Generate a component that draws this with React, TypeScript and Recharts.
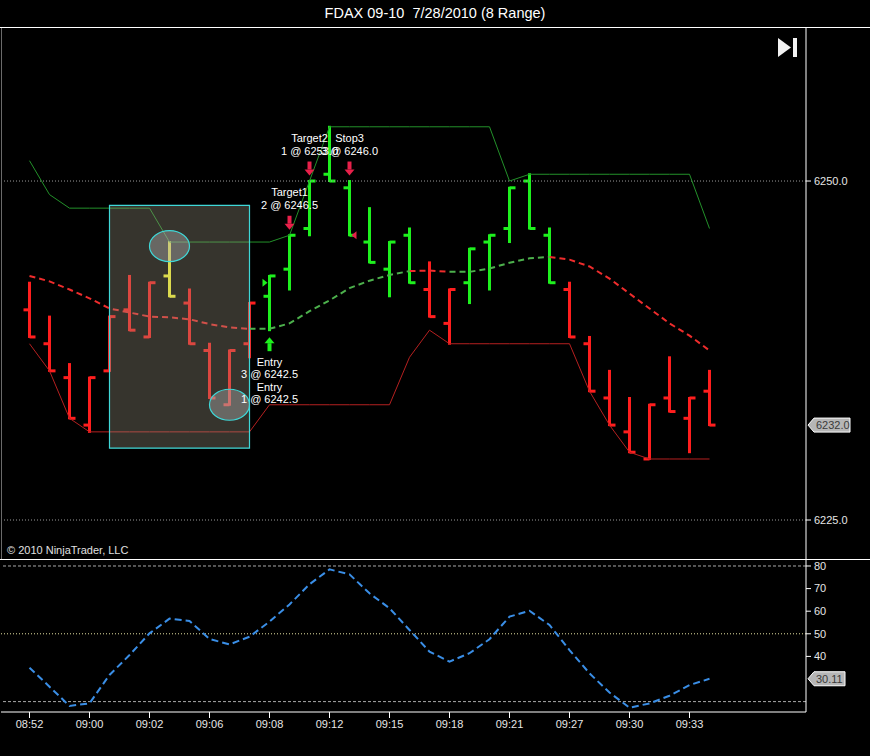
import React from "react";
import {
  ComposedChart,
  LineChart,
  Line,
  Bar,
  XAxis,
  YAxis,
  ReferenceLine,
  ReferenceArea,
  ReferenceDot,
} from "recharts";

// x-axis labels, one every third bar
const TIME_LABELS = [
  "08:52", "09:00", "09:02", "09:06", "09:08", "09:12",
  "09:15", "09:18", "09:21", "09:27", "09:30", "09:33",
];

// bar paint colour: r = red, g = green, y = yellow
const BAR_COLORS = [
  "r", "r", "r", "r", "r", "r", "r", "y", "r", "r", "r", "r",
  "g", "g", "g", "g", "g", "g", "g", "g", "r", "r",
  "g", "g", "g", "g", "g", "r", "r", "r", "r", "r", "r", "r", "r",
];

const OPEN = [
  6240.5, 6238.0, 6235.5, 6232.0, 6236.0, 6240.5, 6238.5, 6243.0, 6241.0, 6237.5, 6233.5, 6238.0,
  6241.5, 6243.5, 6246.5, 6250.5, 6249.5, 6245.5, 6243.5, 6246.0, 6242.0, 6239.5,
  6242.5, 6245.5, 6246.5, 6250.0, 6246.0, 6242.0, 6238.0, 6234.0, 6231.5, 6229.5, 6234.0, 6232.5, 6234.5,
];
const HIGH = [
  6242.5, 6240.0, 6236.5, 6235.5, 6240.0, 6243.0, 6242.5, 6245.5, 6242.0, 6238.0, 6237.5, 6241.0,
  6243.0, 6246.0, 6250.0, 6254.0, 6250.0, 6248.0, 6245.5, 6246.5, 6244.0, 6242.0,
  6245.0, 6246.0, 6249.5, 6250.5, 6246.5, 6242.5, 6238.5, 6236.0, 6234.0, 6233.5, 6237.0, 6234.0, 6236.0,
];
const LOW = [
  6238.5, 6236.0, 6232.5, 6231.5, 6236.0, 6239.0, 6238.5, 6241.5, 6238.0, 6234.0, 6233.5, 6237.0,
  6239.0, 6242.0, 6246.0, 6250.0, 6246.0, 6244.0, 6241.5, 6242.5, 6240.0, 6238.0,
  6241.0, 6242.0, 6245.5, 6246.5, 6242.5, 6238.5, 6234.5, 6232.0, 6230.0, 6229.5, 6233.0, 6230.0, 6232.0,
];
const CLOSE = [
  6238.5, 6236.0, 6232.5, 6235.5, 6240.0, 6239.0, 6242.5, 6241.5, 6238.0, 6234.0, 6237.5, 6241.0,
  6243.0, 6246.0, 6250.0, 6250.0, 6246.0, 6244.0, 6245.5, 6242.5, 6240.0, 6242.0,
  6245.0, 6246.0, 6249.5, 6246.5, 6242.5, 6238.5, 6234.5, 6232.0, 6230.0, 6233.5, 6233.0, 6234.0, 6232.0,
];

// channel (upper / lower)
const UPPER = [
  6251.5, 6249.0, 6248.0, 6248.0, 6248.0, 6248.0, 6248.0, 6245.5, 6245.5, 6245.5, 6245.5, 6245.5,
  6245.5, 6246.0, 6250.0, 6254.0, 6254.0, 6254.0, 6254.0, 6254.0, 6254.0, 6254.0,
  6254.0, 6254.0, 6250.0, 6250.5, 6250.5, 6250.5, 6250.5, 6250.5, 6250.5, 6250.5, 6250.5, 6250.5, 6246.5,
];
const LOWER = [
  6238.0, 6236.0, 6232.5, 6231.5, 6231.5, 6231.5, 6231.5, 6231.5, 6231.5, 6231.5, 6231.5, 6231.5,
  6233.5, 6233.5, 6233.5, 6233.5, 6233.5, 6233.5, 6233.5, 6237.0, 6239.0, 6238.0,
  6238.0, 6238.0, 6238.0, 6238.0, 6238.0, 6238.0, 6234.5, 6232.0, 6230.0, 6229.5, 6229.5, 6229.5, 6229.5,
];

// moving average
const MA = [
  6243.0, 6242.6, 6242.0, 6241.35, 6240.6, 6240.3, 6240.0, 6239.95, 6239.8, 6239.45, 6239.2, 6239.1,
  6239.1, 6239.5, 6240.4, 6241.2, 6242.1, 6242.65, 6243.07, 6243.36, 6243.4, 6243.3,
  6243.3, 6243.55, 6243.97, 6244.3, 6244.4, 6244.2, 6243.7, 6242.8, 6241.7, 6240.6, 6239.5, 6238.6, 6237.5,
];

// lower panel oscillator
const OSC = [
  35.0, 26.6, 18.1, 19.2, 31.8, 40.6, 50.2, 56.7, 55.7, 47.7, 45.3, 48.7,
  55.4, 63.0, 71.9, 78.5, 76.3, 67.9, 61.3, 51.7, 42.1, 37.7,
  41.4, 47.6, 57.6, 60.2, 53.9, 42.8, 32.5, 24.0, 17.3, 19.2, 22.6, 27.3, 30.11,
];

// drawing objects
const RECT_BARS = [4, 11];
const RECT_PRICES = [6230.3, 6248.2];
const ELLIPSE_BARS = [7, 10];
const ELLIPSE_PRICES = [6245.2, 6233.5];

const ENTRY_BAR = 12;
const ENTRY_LINES = ["Entry", "3 @ 6242.5", "Entry", "1 @ 6242.5"];
const EXIT_BARS = [13, 14, 16];
const EXIT_LINES = [
  ["Target1", "2 @ 6246.5"],
  ["Target2", "1 @ 6253.0"],
  ["Stop3", "3 @ 6246.0"],
];
const FILL_MARKS = [
  { bar: 12, price: 6242.5, side: "buy" },
  { bar: 16, price: 6246.0, side: "sell" },
];

const PAINT: Record<string, string> = { r: "#ff1e1e", g: "#1ef01e", y: "#ffff33" };
const X_DOMAIN: [number, number] = [-1.425, 38.825];
const FONT = 'Arial, "Liberation Sans", sans-serif';

const isGreen = (i: number) => BAR_COLORS[i] === "g";

const data = HIGH.map((h, i) => {
  const redHere = !isGreen(i) || (i + 1 < HIGH.length && !isGreen(i + 1));
  const greenHere = isGreen(i) || (i + 1 < HIGH.length && isGreen(i + 1));
  return {
    i,
    open: OPEN[i],
    high: h,
    low: LOW[i],
    close: CLOSE[i],
    range: [LOW[i], h],
    color: PAINT[BAR_COLORS[i]],
    upper: UPPER[i],
    lower: LOWER[i],
    maRed: redHere ? MA[i] : null,
    maGreen: greenHere ? MA[i] : null,
    osc: OSC[i],
  };
});

function OhlcShape(props: any) {
  const { x, y, width, height, payload } = props;
  if (x == null || y == null) return null;
  const top = Math.min(y, y + height);
  const bot = Math.max(y, y + height);
  const cx = x + width / 2;
  const span = payload.high - payload.low || 1;
  const toY = (v: number) => top + ((payload.high - v) / span) * (bot - top);
  const oy = toY(payload.open);
  const cy = toY(payload.close);
  return (
    <g stroke={payload.color} strokeWidth={3}>
      <line x1={cx} x2={cx} y1={top - 1} y2={bot + 1} />
      <line x1={cx - 6} x2={cx} y1={oy} y2={oy} />
      <line x1={cx} x2={cx + 6} y1={cy} y2={cy} />
    </g>
  );
}

function Arrow({ cx, tip, down, color }: any) {
  const dir = down ? 1 : -1;
  const neck = tip - dir * 6;
  const base = tip - dir * 14;
  return (
    <g fill={color}>
      <polygon points={`${cx},${tip} ${cx - 5},${neck} ${cx + 5},${neck}`} />
      <rect x={cx - 2} width={4} y={Math.min(neck, base)} height={Math.abs(neck - base)} />
    </g>
  );
}

const noteText = (cx: number, y: number, t: string, k: number) => (
  <text key={k} x={cx} y={y} dy="0.35em" textAnchor="middle" fill="#ffffff" fontSize={11} fontFamily={FONT}>
    {t}
  </text>
);

const ExitNote = (lines: string[]) => (p: any) => (
  <g>
    {lines.map((t, k) => noteText(p.cx, p.cy - 43 + k * 13.3, t, k))}
    <Arrow cx={p.cx} tip={p.cy - 5.5} down color="#e8204a" />
  </g>
);

const EntryNote = (p: any) => (
  <g>
    <Arrow cx={p.cx} tip={p.cy + 7} down={false} color="#1ef01e" />
    {ENTRY_LINES.map((t, k) => noteText(p.cx, p.cy + 31.5 + k * 12.6, t, k))}
  </g>
);

const FillMark = (side: string) => (p: any) =>
  side === "buy" ? (
    <polygon points={`${p.cx - 7},${p.cy - 4} ${p.cx - 2},${p.cy} ${p.cx - 7},${p.cy + 4}`} fill="#1ef01e" />
  ) : (
    <polygon points={`${p.cx + 7},${p.cy - 4} ${p.cx + 2},${p.cy} ${p.cx + 7},${p.cy + 4}`} fill="#e8204a" />
  );

const EllipseShape = (p: any) => (
  <ellipse cx={p.cx} cy={p.cy} rx={20} ry={15.5} fill="#b4b4b4" fillOpacity={0.4} stroke="#3fd8d8" strokeWidth={1.2} />
);

function ValueTag(props: any) {
  const { viewBox, text, w } = props;
  if (!viewBox) return null;
  const x = viewBox.x + viewBox.width + 2;
  const y = viewBox.y;
  return (
    <g>
      <polygon
        points={`${x},${y} ${x + 6},${y - 7} ${x + 6 + w},${y - 7} ${x + 6 + w},${y + 7} ${x + 6},${y + 7}`}
        fill="#b6b6b6"
        stroke="#ffffff"
        strokeWidth={1}
      />
      <text x={x + 8} y={y} dy="0.36em" fontSize={11} fill="#3a3a3a" fontFamily={FONT}>
        {text}
      </text>
    </g>
  );
}

const axisTick = { fill: "#e6e6e6", fontSize: 11, fontFamily: FONT };

export default function App() {
  const last = HIGH.length - 1;
  return (
    <div
      style={{
        position: "relative",
        width: 870,
        height: 756,
        background: "#000",
        overflow: "hidden",
        fontFamily: FONT,
      }}
    >
      <style>{"body{margin:0;background:#000}"}</style>
      <div
        style={{
          position: "absolute",
          top: 4,
          left: 0,
          width: 870,
          textAlign: "center",
          color: "#fff",
          fontSize: 14.5,
          lineHeight: "18px",
          whiteSpace: "pre",
        }}
      >
        {"FDAX 09-10  7/28/2010 (8 Range)"}
      </div>

      <div style={{ position: "absolute", top: 0, left: 0 }}>
        <ComposedChart width={870} height={560} data={data} margin={{ top: 27, right: 0, bottom: 0, left: 1 }}>
          <XAxis type="number" dataKey="i" domain={X_DOMAIN} allowDataOverflow hide />
          <YAxis
            orientation="right"
            width={64}
            domain={[6222.05, 6261.36]}
            allowDataOverflow
            ticks={[6225, 6250]}
            tickFormatter={(v: number) => v.toFixed(1)}
            tick={axisTick}
            tickSize={5}
            tickMargin={3}
            axisLine={{ stroke: "#ffffff" }}
            tickLine={{ stroke: "#ffffff" }}
          />
          <ReferenceLine y={6250} stroke="#9a9a9a" strokeDasharray="1 2" />
          <ReferenceLine y={6225} stroke="#9a9a9a" strokeDasharray="1 2" />
          <Line dataKey="upper" type="linear" stroke="#23912a" strokeWidth={1} dot={false} isAnimationActive={false} />
          <Line dataKey="lower" type="linear" stroke="#b52020" strokeWidth={1} dot={false} isAnimationActive={false} />
          <Line
            dataKey="maRed"
            type="linear"
            stroke="#ee2c2c"
            strokeWidth={2}
            strokeDasharray="6 4"
            dot={false}
            connectNulls={false}
            isAnimationActive={false}
          />
          <Line
            dataKey="maGreen"
            type="linear"
            stroke="#4cb04c"
            strokeWidth={2}
            strokeDasharray="6 4"
            dot={false}
            connectNulls={false}
            isAnimationActive={false}
          />
          <Bar dataKey="range" barSize={6} shape={OhlcShape} isAnimationActive={false} />
          <ReferenceArea
            x1={RECT_BARS[0]}
            x2={RECT_BARS[1]}
            y1={RECT_PRICES[0]}
            y2={RECT_PRICES[1]}
            fill="#9a9480"
            fillOpacity={0.35}
            stroke="#3fd8d8"
            strokeWidth={1.2}
            zIndex={800}
          />
          {ELLIPSE_BARS.map((b, k) => (
            <ReferenceDot key={"e" + k} x={b} y={ELLIPSE_PRICES[k]} r={20} shape={EllipseShape} zIndex={900} />
          ))}
          {FILL_MARKS.map((m, k) => (
            <ReferenceDot key={"f" + k} x={m.bar} y={m.price} r={4} shape={FillMark(m.side)} zIndex={900} />
          ))}
          <ReferenceDot x={ENTRY_BAR} y={LOW[ENTRY_BAR]} r={1} shape={EntryNote} zIndex={900} />
          {EXIT_BARS.map((b, k) => (
            <ReferenceDot key={"x" + k} x={b} y={HIGH[b]} r={1} shape={ExitNote(EXIT_LINES[k])} zIndex={900} />
          ))}
          <ReferenceLine
            y={CLOSE[last]}
            stroke="none"
            label={<ValueTag text={CLOSE[last].toFixed(1)} w={36} />}
          />
        </ComposedChart>
      </div>

      <div style={{ position: "absolute", top: 560, left: 0 }}>
        <LineChart width={870} height={196} data={data} margin={{ top: 0, right: 0, bottom: 14, left: 1 }}>
          <XAxis
            type="number"
            dataKey="i"
            domain={X_DOMAIN}
            allowDataOverflow
            ticks={TIME_LABELS.map((_, k) => k * 3)}
            tickFormatter={(v: number) => TIME_LABELS[Math.round(v / 3)]}
            tick={axisTick}
            tickSize={6}
            tickMargin={2}
            height={30}
            axisLine={{ stroke: "#ffffff" }}
            tickLine={{ stroke: "#ffffff" }}
          />
          <YAxis
            orientation="right"
            width={64}
            domain={[15.4, 82.65]}
            allowDataOverflow
            ticks={[40, 50, 60, 70, 80]}
            tick={axisTick}
            tickSize={5}
            tickMargin={3}
            axisLine={{ stroke: "#ffffff" }}
            tickLine={{ stroke: "#ffffff" }}
          />
          <ReferenceLine y={80} stroke="#a8a8a8" strokeDasharray="3 2" />
          <ReferenceLine y={50} stroke="#e4e0a0" strokeDasharray="1 2" />
          <ReferenceLine y={20} stroke="#a8a8a8" strokeDasharray="3 2" />
          <Line
            dataKey="osc"
            type="linear"
            stroke="#3a8ee6"
            strokeWidth={2}
            strokeDasharray="7 4"
            dot={false}
            isAnimationActive={false}
          />
          <ReferenceLine
            y={OSC[last]}
            stroke="none"
            label={<ValueTag text={OSC[last].toFixed(2)} w={31} />}
          />
        </LineChart>
      </div>

      {/* panel frame lines */}
      <div style={{ position: "absolute", top: 27, left: 0, width: 870, height: 1, background: "#fff" }} />
      <div style={{ position: "absolute", top: 559, left: 0, width: 870, height: 1, background: "#fff" }} />
      <div style={{ position: "absolute", top: 28, left: 1, width: 1, height: 531, background: "#6a6a6a" }} />

      <div style={{ position: "absolute", top: 543, left: 7, fontSize: 11, color: "#e0e0e0", lineHeight: "14px" }}>
        © 2010 NinjaTrader, LLC
      </div>

      <svg style={{ position: "absolute", top: 36, left: 775 }} width={26} height={24}>
        <polygon points="3,2 3,21 16,11.5" fill="#f2f2f2" />
        <rect x={18} y={2} width={4} height={19} fill="#f2f2f2" />
      </svg>
    </div>
  );
}
